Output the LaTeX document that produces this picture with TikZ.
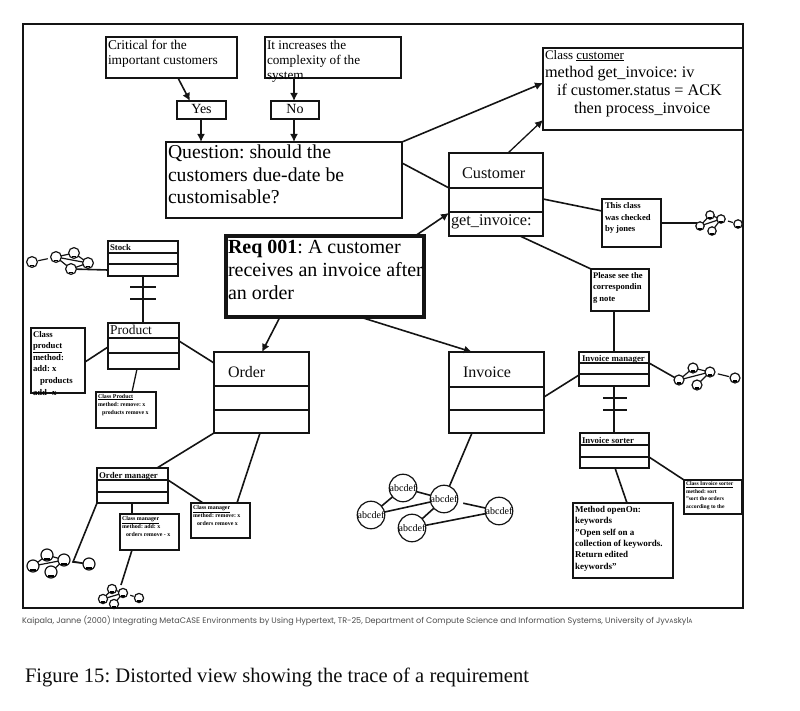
\documentclass[tikz,border=0pt]{standalone}
\usepackage{fontspec}
\setmainfont{Liberation Serif}
\newfontfamily\footfont{Poppins}
\usetikzlibrary{arrows.meta}
\hbadness=10000 \hfuzz=200pt \vbadness=10000 \vfuzz=200pt
\frenchspacing
\tikzset{
 line/.style={draw=black!92,line width=1.6pt},
 thin line/.style={draw=black!92,line width=1.2pt},
 arrow/.style={line,-{Latex[length=8pt,width=8pt]}},
 tb/.style={draw=black!92,fill=white,anchor=north west,inner sep=0pt,outer sep=0pt},
 lbl/.style={inner sep=0pt,outer sep=0pt,anchor=base west,text=black!95},
 bigc/.style={circle,draw=black!92,line width=1.2pt,minimum size=26pt,inner sep=0pt,outer sep=0pt,font=\fontsize{10}{11}\selectfont},
 minic/.style={circle,draw=black!92,line width=1.2pt,fill=white,inner sep=0pt,outer sep=0pt},
 cross/.style={line}
}
% name,x,y,w,h,linewidth,fontsize,leading,{pad}{text}
\newcommand{\tbox}[9]{\node[tb,line width=#6pt] (#1) at (#2,#3)
 {\parbox[c][#5pt][t]{#4pt}{\fontsize{#7}{#8}\selectfont\setlength{\parindent}{0pt}\raggedright\leftskip=2pt #9}};}
% name,x,y,w,h,y1,y2,linewidth
\newcommand{\cbox}[8]{\node[tb,line width=#8pt,minimum width=#4pt,minimum height=#5pt] (#1) at (#2,#3) {};
 \draw[draw=black!92,line width=#8pt] (#1.west |- 0,#6) -- (#1.east |- 0,#6);
 \draw[draw=black!92,line width=#8pt] (#1.west |- 0,#7) -- (#1.east |- 0,#7);}
% prefix,r,L,T,R,B,F
\newcommand{\mini}[7]{
 \foreach \nn/\pp in {L/{#3},T/{#4},R/{#5},B/{#6},F/{#7}}{
  \expandafter\minipoint\expandafter{\pp}{#1\nn}{#2}}
 \draw[thin line] (#1L) -- (#1T);
 \draw[thin line] (#1L) -- (#1R);
 \draw[thin line] (#1T) -- (#1R);
 \draw[thin line] (#1R) -- (#1B);
 \draw[thin line,shorten <=3pt,shorten >=1pt] (#1R) -- (#1F);
}
\newcommand{\minipoint}[3]{
 \node[minic,minimum size=#3*2pt] (#2) at (#1) {};
 \draw[line width=1.8pt,draw=black] ([xshift=-#3*0.45pt,yshift=#3*0.35pt]#2.south) -- ([xshift=#3*0.45pt,yshift=#3*0.35pt]#2.south);
}
\begin{document}
\begin{tikzpicture}[x=1pt,y=-1pt]
\useasboundingbox (0,0) rectangle (800,711);
\node[tb,line width=1.6pt,fill=none,minimum width=720pt,minimum height=584pt] (frame) at (23,24) {};

% top group
\tbox{crit}{106}{37}{131}{41}{1.8}{13.4}{15}{\vspace*{3pt}Critical for the\\important customers}
\tbox{incr}{265}{37}{136}{41}{1.8}{13.2}{15}{\vspace*{3pt}It increases the\\complexity of the\\system}
\node[tb,line width=1.6pt,minimum width=49pt,minimum height=18pt,font=\fontsize{14}{15}\selectfont] (yes) at (177,101) {\raisebox{1.5pt}{Yes}};
\node[tb,line width=1.6pt,minimum width=48pt,minimum height=18pt,font=\fontsize{14}{15}\selectfont] (no) at (271,101) {\raisebox{1.5pt}{No}};
\tbox{quest}{166}{142}{236}{76}{1.4}{19.7}{22.5}{\vspace*{3pt}Question: should the\\customers due-date be\\customisable?}
\tbox{req}{226}{236}{198}{81}{3.4}{20}{23}{\vspace*{4pt}\textbf{Req 001}: A customer\\receives an invoice after\\an order}
\draw[arrow] (crit.south -| 178,0) -- (yes.north -| 190,0);
\draw[arrow] (incr.south -| 294,0) -- (no.north -| 294,0);
\draw[arrow] (yes.south -| 201,0) -- (quest.north -| 201,0);
\draw[arrow] (no.south -| 294,0) -- (quest.north -| 294,0);

% customer
\tbox{ccust}{543}{48}{200}{82}{1.4}{16.2}{18.2}{\vspace*{2pt}{\fontsize{13}{14}\selectfont Class \underline{customer}}\\method get\_invoice: iv\\\hspace*{12pt}if customer.status = ACK\\\hspace*{29pt}then process\_invoice}
\cbox{cust}{449}{153}{94}{83}{188}{212}{1.6}
\node[lbl,font=\fontsize{16.3}{18}\selectfont] (custname) at (462,179) {Customer};
\node[lbl,font=\fontsize{16.3}{18}\selectfont] (custmeth) at (451,226) {get\_invoice:};
\draw[arrow] (quest.east |- 0,142) -- (ccust.west |- 0,83);
\draw[arrow,line width=1.3pt] (cust.north -| 508,0) -- (ccust.west |- 0,120);
\draw[line] (quest.east |- 0,163) -- (cust.west |- 0,188);
\draw[arrow] (req.north -| 415,0) -- (cust.west |- 0,213);

\tbox{checked}{602}{199}{59}{48}{1.3}{8.6}{11.5}{\vspace*{4pt}\leftskip=3pt\bfseries This class\\was checked\\by jones}
\tbox{please}{591}{269}{58}{42}{1.3}{8.6}{11.5}{\vspace*{3.5pt}\bfseries Please see the\\correspondin\\g note}
\draw[line] (cust.east |- 0,199) -- (checked.west |- 0,211);
\draw[line] (cust.south -| 520,0) -- (please.west |- 0,269);
\mini{k}{4.2}{700,226}{710,215}{721,219}{712,231}{738,224}
\draw[line] (checked.east |- 0,223) -- (697,223) coordinate (kJ);

% invoice manager
\cbox{im}{579}{352}{70}{34}{363}{374}{1.6}
\node[lbl,font=\fontsize{8.8}{10}\selectfont\bfseries] (imt) at (582,361) {Invoice manager};
\cbox{is}{580}{433}{69}{35}{445}{457}{1.6}
\node[lbl,font=\fontsize{8.8}{10}\selectfont\bfseries] (ist) at (582,443) {Invoice sorter};
\cbox{inv}{449}{352}{95}{81}{387}{410}{1.6}
\node[lbl,font=\fontsize{16}{18}\selectfont] (invt) at (463,377) {Invoice};
\draw[line] (please.south -| 614,0) -- (im.north -| 614,0);
\draw[line] (im.south -| 614,0) -- (is.north -| 614,0);
\draw[cross] (603,398) coordinate (ca) -- (627,398) coordinate (cb);
\draw[cross] (603,410) coordinate (cc) -- (627,410) coordinate (cd);
\draw[line] (inv.east |- 0,397) -- (im.west |- 0,375);
\draw[arrow] (req.south -| 360,0) -- (inv.north -| 472,0);
\mini{m}{5}{679,380}{693,368}{710,372}{697,385}{735,378}
\draw[line] (im.east |- 0,363) -- (mL);

\tbox{meth}{573}{503}{100}{75}{1.3}{9}{11.4}{\vspace*{3pt}\bfseries Method openOn:\\keywords\\"Open self on a\\collection of keywords.\\Return edited\\keywords"}
\tbox{cis}{684}{480}{58}{34}{1.6}{5.6}{7.8}{\vspace*{1.5pt}\bfseries\underline{Class Invoice sorter}\\method: sort\\"sort the orders\\according to the}
\draw[line] (is.south -| 615,0) -- (meth.north -| 627,0);
\draw[line] (is.east |- 0,457) -- (cis.west |- 0,480);

% big circle graph
\node[bigc] (ga) at (403,488) {abcdef};
\node[bigc] (gb) at (444,499) {abcdef};
\node[bigc] (gc) at (499,511) {abcdef};
\node[bigc] (gd) at (371,515) {abcdef};
\node[bigc] (ge) at (412,528) {abcdef};
\draw[line] (inv.south -| 472,0) -- (gb);
\draw[line] (ga) -- (gb);
\draw[line] (ga) -- (gd);
\draw[line] (gd) -- (gb);
\draw[line] (gb) -- (ge);
\draw[line] (ge) -- (gc);
\draw[line,shorten <=6pt] (gb) -- (gc);

% left part
\cbox{stock}{108}{241}{70}{35}{253}{264}{1.6}
\node[lbl,font=\fontsize{8.8}{10}\selectfont\bfseries] (stockt) at (110,251) {Stock};
\cbox{prod}{108}{323}{71}{46}{338}{353}{1.6}
\node[lbl,font=\fontsize{13.5}{15}\selectfont] (prodt) at (110,334) {Product};
\cbox{order}{214}{352}{95}{81}{386}{410}{1.6}
\node[lbl,font=\fontsize{16}{18}\selectfont] (ordert) at (228,377) {Order};
\draw[line] (stock.south -| 143,0) -- (prod.north -| 143,0);
\draw[cross] (130,287) coordinate (ce) -- (156,287) coordinate (cf);
\draw[cross] (130,299) coordinate (cg) -- (156,299) coordinate (ch);
\draw[line] (prod.east |- 0,341) -- (order.west |- 0,363);
\draw[arrow] (req.south -| 280,0) -- (order.north -| 262,0);

\mini{s}{5.4}{88,263}{71,269}{56,257}{74,253}{32,262}
\draw[thin line] (sB) -- (sL);
\draw[line] (stock.west |- 0,270) -- (sT);

\tbox{cprod}{31}{328}{54}{65}{1.3}{8.7}{11.6}{\vspace*{3pt}\bfseries Class\\\underline{product}\\method:\\add: x\\\hspace*{7pt}products\\add -x}
\tbox{cprod2}{96}{392}{60}{36}{1.6}{5.9}{8}{\vspace*{2pt}\bfseries\underline{Class Product}\\method: remove: x\\\hspace*{4pt}products remove x}
\draw[line] (cprod.east |- 0,362) -- (prod.west |- 0,347);
\draw[line,line width=1.3pt] (prod.south -| 137,0) -- (cprod2.north -| 132,0);

\cbox{om}{97}{468}{71}{35}{480}{492}{1.6}
\node[lbl,font=\fontsize{8.8}{11}\selectfont\bfseries] (omt) at (99,478) {Order manager};
\draw[line] (order.south -| 214,0) -- (om.north -| 157,0);
\tbox{cm1}{120}{514}{59}{36}{1.6}{5.9}{8}{\vspace*{2pt}\bfseries\underline{Class manager}\\method: add: x\\\hspace*{4pt}orders remove - x}
\tbox{cm2}{191}{503}{59}{35}{1.6}{5.9}{8}{\vspace*{2pt}\bfseries\underline{Class manager}\\method: remove: x\\\hspace*{4pt}orders remove x}
\draw[line] (order.south -| 260,0) -- (cm2.north -| 237,0);
\draw[line] (om.east |- 0,480) -- (cm2.north -| 203,0);
\draw[line] (om.south -| 132,0) -- (cm1.north -| 132,0);
\mini{o}{6}{33,566}{47,555}{64,560}{51,572}{89,564}
\draw[line] (om.south west) -- (73,562) -- (oF);
\mini{p}{4.6}{103,599}{112,589}{123,593}{114,604}{139,598}
\draw[line] (cm1.south -| 132,0) -- (121,585) coordinate (pJ);

% footer and caption
\node[lbl,text=black!70,font=\footfont\fontsize{8.06}{9}\selectfont] (foot) at (22,623) {Kaipala, Janne (2000) Integrating MetaCASE Environments by Using Hypertext, TR-25, Department of Compute Science and Information Systems, University of Jyv{\fontsize{6.2}{7}\selectfont A}skyl{\fontsize{6.2}{7}\selectfont A}};
\node[lbl,font=\fontsize{20.6}{22}\selectfont] (cap) at (25,682) {Figure 15: Distorted view showing the trace of a requirement};
\end{tikzpicture}
\end{document}
